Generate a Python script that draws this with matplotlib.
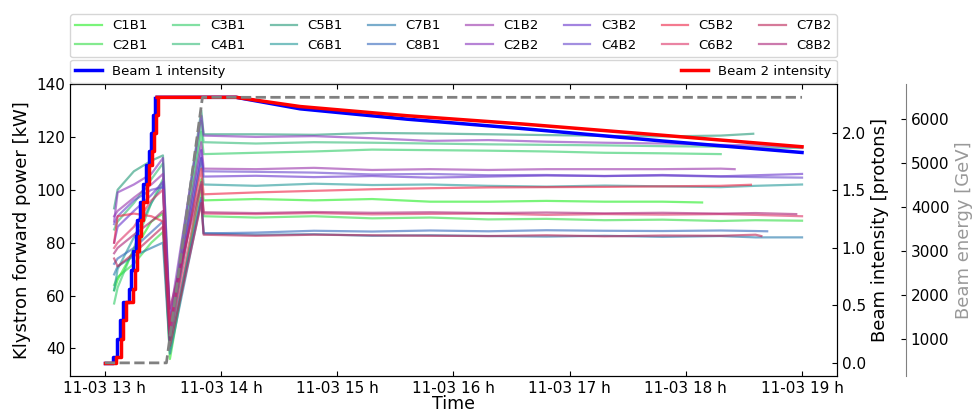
import numpy as np
import pandas as pd
import matplotlib
matplotlib.use("Agg")
from matplotlib import pyplot as plt
import matplotlib.dates as mdates

# Time axis: hours of 2015-11-03
day = pd.Timestamp("2015-11-03")

# Beam intensities [1e14 protons]: injection steps, then decay
b1_inj_hours = [13.00, 13.071, 13.106, 13.129, 13.152, 13.209, 13.229, 13.243, 13.264,
                13.281, 13.301, 13.330, 13.350, 13.378, 13.396, 13.415, 13.430]
b1_inj_vals = [0.0, 0.05, 0.21, 0.37, 0.53, 0.64, 0.81, 0.97, 1.10,
               1.24, 1.40, 1.56, 1.72, 1.84, 2.00, 2.16, 2.30]
b2_inj_hours = [13.00, 13.10, 13.135, 13.16, 13.185, 13.24, 13.26, 13.275, 13.295,
                13.31, 13.33, 13.36, 13.38, 13.405, 13.425, 13.44, 13.455]
b2_inj_vals = [0.0, 0.05, 0.21, 0.37, 0.53, 0.64, 0.81, 0.97, 1.10,
               1.24, 1.40, 1.56, 1.72, 1.84, 2.00, 2.16, 2.30]
decay_hours = [13.45, 14.13, 14.68, 15.6, 16.57, 17.8, 19.0]
b1_decay_vals = [2.31, 2.31, 2.21, 2.12, 2.04, 1.93, 1.83]
b2_decay_vals = [2.31, 2.31, 2.23, 2.15, 2.08, 1.98, 1.88]

# Beam energy [GeV]
energy_hours = [13.0, 13.53, 13.84, 19.0]
energy_vals = [450, 450, 6500, 6500]

# Klystron forward power [kW]
names = ["C1B1", "C2B1", "C3B1", "C4B1", "C5B1", "C6B1", "C7B1", "C8B1",
         "C1B2", "C2B2", "C3B2", "C4B2", "C5B2", "C6B2", "C7B2", "C8B2"]
colors = ["#22ee22", "#33dd44", "#2fcc66", "#33bb77", "#229977", "#229999", "#2277aa", "#3366bb",
          "#9933aa", "#8833bb", "#6633cc", "#6644cc", "#ee2244", "#dd3366", "#bb2255", "#aa2277"]
ramp_hours = [13.08, 13.11, 13.25, 13.40, 13.50, 13.56, 13.83]
ramp_kw = [
    [62, 66, 77, 88, 91, 36, 104],
    [64, 67, 72, 80, 84, 40, 100],
    [57, 63, 78, 95, 104, 42, 122],
    [85, 88, 95, 104, 110, 45, 126],
    [93, 100, 107, 111, 113, 48, 130],
    [62, 70, 82, 95, 102, 44, 112],
    [68, 71, 75, 78, 80, 38, 96],
    [72, 74, 78, 84, 88, 43, 97],
    [90, 92, 97, 102, 106, 50, 118],
    [88, 99, 102, 106, 112, 52, 128],
    [80, 86, 92, 98, 103, 47, 115],
    [87, 90, 96, 100, 101, 46, 112],
    [80, 90, 91, 90, 88, 49, 108],
    [78, 80, 86, 96, 100, 45, 102],
    [74, 71, 76, 82, 86, 41, 95],
    [76, 78, 83, 88, 92, 55, 103],
]
plateau_hours = [13.85, 14.3, 14.8, 15.3, 15.8, 16.3, 16.8, 17.3, 17.8, 18.3, 18.6]
end_hours = [18.14, 19.0, 18.3, 19.0, 18.58, 19.0, 19.0, 18.7,
             18.42, 19.0, 19.0, 19.0, 18.56, 19.0, 18.65, 18.95]
plateau_kw = [
    [96, 96.5, 96, 96.5, 95.5, 95.5, 95.8, 95.5, 95.5, 95.2],
    [90, 89.5, 90, 89.2, 89.5, 88.8, 89, 88.5, 88.7, 88.2, 88.5, 88.3],
    [113.5, 114, 114.5, 115.2, 115, 114.8, 114.5, 114, 113.8, 113.5],
    [118, 117.5, 118, 117.8, 117.5, 117.2, 117, 116.8, 116.5, 116.3, 116, 115.8],
    [121, 121, 120.8, 121.5, 121.3, 121, 120.7, 120.4, 120.2, 120.5, 121.2],
    [102, 101.5, 102.3, 101.8, 102, 101.5, 101.2, 101.6, 101.3, 101, 101.5, 102],
    [83.5, 83, 83.2, 82.6, 82.8, 82.5, 82.3, 82.6, 82.2, 82.5, 82, 82],
    [83.5, 83.8, 84.5, 84.2, 84.6, 84.3, 84.7, 84.5, 84.4, 84.6, 84.4, 84.3],
    [108, 107.8, 108.3, 107.5, 107.8, 107.5, 107.8, 107.8, 107.8, 108, 107.8],
    [120.5, 120, 120.3, 119.5, 118.5, 118.8, 118.2, 117.8, 117.5, 117, 116.8, 116],
    [105, 105.3, 104.8, 105.2, 104.6, 105, 105.4, 105.2, 105.6, 105.1, 105.5, 106],
    [107, 106.8, 106.5, 105.8, 106, 105.5, 105.6, 105.2, 105.4, 105, 104.8, 104.6],
    [98.3, 99, 99.6, 100.2, 100.6, 100.9, 101, 101.1, 101.3, 101.5, 101.9],
    [91, 90.8, 91.2, 90.7, 90.9, 91, 90.5, 90.8, 90.6, 90.8, 90.5, 90],
    [83, 82.6, 83, 82.8, 82.6, 82.5, 82.8, 82.4, 82.7, 82.6, 83, 82.5],
    [91.5, 91.2, 91.6, 91.3, 91.5, 91.2, 91.4, 91.1, 91.3, 91, 91.2, 90.8],
]


def to_time(hours):
    return (day + pd.to_timedelta(np.asarray(hours, dtype=float), unit="h")).values


plt.rcParams["xtick.direction"] = "in"
plt.rcParams["ytick.direction"] = "in"
plt.rcParams["xtick.top"] = True

fig = plt.figure(figsize=(9.72, 4.12), dpi=100)
ax = fig.add_axes([0.072, 0.087, 0.789, 0.709])

klys_handles = []
for i, name in enumerate(names):
    end = end_hours[i]
    p_hours = [h for h in plateau_hours if h < end] + [end]
    hours = ramp_hours + p_hours
    vals = ramp_kw[i] + plateau_kw[i]
    line, = ax.plot(to_time(hours), vals, color=colors[i], alpha=0.6, lw=1.6, label=name)
    klys_handles.append(line)

ax.set_ylim(29.5, 140)
ax.set_ylabel("Klystron forward power [kW]", fontsize=13)
ax.set_xlabel("Time", fontsize=12.5, labelpad=-1)
ax.tick_params(labelsize=11)
ax.xaxis.set_major_locator(mdates.HourLocator())
ax.xaxis.set_major_formatter(mdates.DateFormatter("%m-%d %H h"))

# Beam intensity axis
ax2 = ax.twinx()
b1, = ax2.plot(to_time(b1_inj_hours), b1_inj_vals, color="blue", lw=2.5,
               drawstyle="steps-post", label="Beam 1 intensity")
ax2.plot(to_time(decay_hours), b1_decay_vals, color="blue", lw=2.5)
b2, = ax2.plot(to_time(b2_inj_hours), b2_inj_vals, color="red", lw=2.5,
               drawstyle="steps-post", label="Beam 2 intensity")
ax2.plot(to_time(decay_hours), b2_decay_vals, color="red", lw=2.5)
ax2.set_ylabel("Beam intensity [protons]", fontsize=13)
ax2.tick_params(labelsize=11)
ax2.yaxis.get_offset_text().set_fontsize(12)

# Beam energy axis
ax3 = ax.twinx()
ax3.plot(to_time(energy_hours), energy_vals, color="0.5", lw=2, ls="--")
ax3.spines["right"].set_position(("axes", 1.09))
ax3.spines["right"].set_color("0.5")
for s in ["left", "top", "bottom"]:
    ax3.spines[s].set_visible(False)
ax3.set_ylabel("Beam energy [GeV]", fontsize=13, color="0.6")
ax3.tick_params(labelsize=11)

ax.set_xlim(to_time([12.7])[0], to_time([19.3])[0])

ax.legend(handles=klys_handles, ncol=8, mode="expand", loc="lower left",
          bbox_to_anchor=(0, 1.092, 1, 0.15), borderaxespad=0, fontsize=9.5)
ax2.legend(handles=[b1, b2], ncol=2, mode="expand", loc="lower left",
           bbox_to_anchor=(0, 1.003, 1, 0.07), borderaxespad=0, fontsize=9.5)

fig.savefig("out.png", dpi=100)
